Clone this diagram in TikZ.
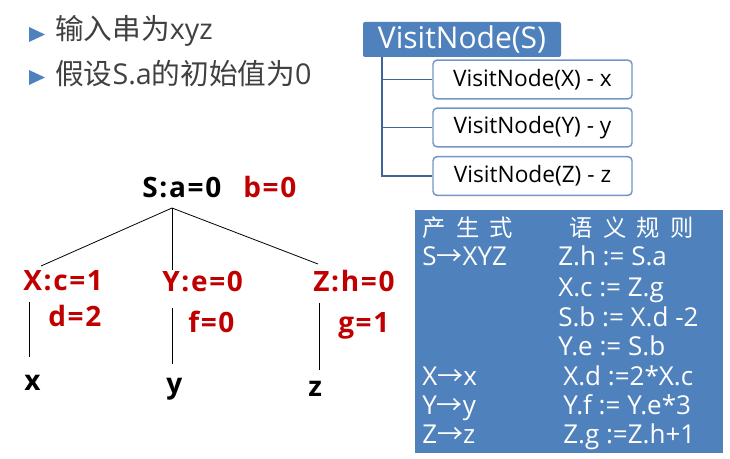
\documentclass[tikz,border=0pt]{standalone}
\usepackage{fontspec}
\setmainfont{Open Sans}
\newfontfamily\cjk{Noto Sans CJK SC}
\definecolor{pblue}{HTML}{4F81BD}
\definecolor{bordblue}{HTML}{7396C8}
\definecolor{connblue}{HTML}{3F6497}
\definecolor{pred}{HTML}{C00000}
\definecolor{pgray}{HTML}{404040}
\newcommand{\arr}{{\cjk →}}
\begin{document}
\begin{tikzpicture}[x=0.75pt,y=-0.75pt,
  bullettext/.style={anchor=base west,inner sep=0pt,text=pgray,font=\fontsize{21.5}{24}\selectfont},
  sbox/.style={fill=pblue,rounded corners=1.5pt,text=white,minimum width=148.5pt,minimum height=26.25pt,inner sep=0pt,font=\fontsize{22.5}{24}\selectfont},
  cbox/.style={draw=bordblue,line width=1.1pt,fill=white,rounded corners=3pt,minimum width=149.25pt,minimum height=29pt,inner sep=0pt,font=\fontsize{17}{19}\selectfont},
  conn/.style={draw=connblue,line width=1.4pt},
  tbl/.style={fill=pblue,minimum width=231pt,minimum height=182.25pt,inner sep=0pt},
  ttext/.style={anchor=base west,inner sep=0pt,text=white,font=\fontsize{19.5}{21}\selectfont},
  thead/.style={ttext,font=\fontsize{17.5}{19}\selectfont},
  tree/.style={anchor=base west,inner sep=0pt,font=\bfseries\fontsize{21}{24}\selectfont\addfontfeature{LetterSpace=6}},
  redt/.style={tree,text=pred},
  edge/.style={draw=black,line width=0.6pt}]
\useasboundingbox (0,0) rectangle (730,459);
% bullets
\fill[pblue] (29,27) -- (45,34.5) -- (29,42) -- cycle;
\fill[pblue] (29,70) -- (45,77.5) -- (29,85) -- cycle;
\node[bullettext] (b1) at (55,40) {{\cjk 输入串为}xyz};
\node[bullettext] (b2) at (55,85) {{\cjk 假设}S.a{\cjk 的初始值为}0};
% VisitNode boxes
\node[sbox] (S) at (462,39.5) {VisitNode(S)};
\node[cbox] (c1) at (532.5,79.5) {VisitNode(X) - x};
\node[cbox] (c2) at (532.5,127.5) {VisitNode(Y) - y};
\node[cbox] (c3) at (532.5,176) {VisitNode(Z) - z};
\coordinate (trunk) at (382,57);
\draw[conn] (trunk) |- (c1.west);
\draw[conn] (trunk) |- (c2.west);
\draw[conn] (trunk) |- (c3.west);
% table
\node[tbl] (T) at (569,331.5) {};
\node[thead] (h1) at (422,237) {\cjk 产\ \ 生\ \ 式};
\node[thead] (h2) at (569,237) {\cjk 语\ \ 义\ \ 规\ \ 则};
\node[ttext] (p1) at (422,266) {S\arr XYZ};
\node[ttext] (p2) at (422,385) {X\arr x};
\node[ttext] (p3) at (422,414) {Y\arr y};
\node[ttext] (p4) at (422,443) {Z\arr z};
\node[ttext] (r1) at (558,266) {Z.h := S.a};
\node[ttext] (r2) at (558,296) {X.c := Z.g};
\node[ttext] (r3) at (558,326) {S.b := X.d -2};
\node[ttext] (r4) at (558,355) {Y.e := S.b};
\node[ttext] (r5) at (563,385) {X.d :=2*X.c};
\node[ttext] (r6) at (563,414) {Y.f := Y.e*3};
\node[ttext] (r7) at (563,443) {Z.g :=Z.h+1};
% tree
\node[tree] (Sn) at (142,198) {S:a=0};
\node[redt] (Sb) at (243,198) {b=0};
\node[redt] (X1) at (23,290) {X:c=1};
\node[redt] (X2) at (48,326) {d=2};
\node[redt] (Y1) at (162,291) {Y:e=0};
\node[redt] (Y2) at (188,332) {f=0};
\node[redt] (Z1) at (313,291) {Z:h=0};
\node[redt] (Z2) at (338,332) {g=1};
\node[tree] (lx) at (24,390) {x};
\node[tree] (ly) at (166,393) {y};
\node[tree] (lz) at (308,396) {z};
\coordinate (apex) at (172,208);
\coordinate (xt) at (41,266);
\coordinate (yt) at (172,270);
\coordinate (zt) at (318,264);
\coordinate (xa) at (29,302);
\coordinate (xb) at (29,357);
\coordinate (ya) at (172,308);
\coordinate (yb) at (172,364);
\coordinate (za) at (319,303);
\coordinate (zb) at (319,370);
\draw[edge] (apex) -- (xt);
\draw[edge] (apex) -- (yt);
\draw[edge] (apex) -- (zt);
\draw[edge] (xa) -- (xb);
\draw[edge] (ya) -- (yb);
\draw[edge] (za) -- (zb);
\end{tikzpicture}
\end{document}
